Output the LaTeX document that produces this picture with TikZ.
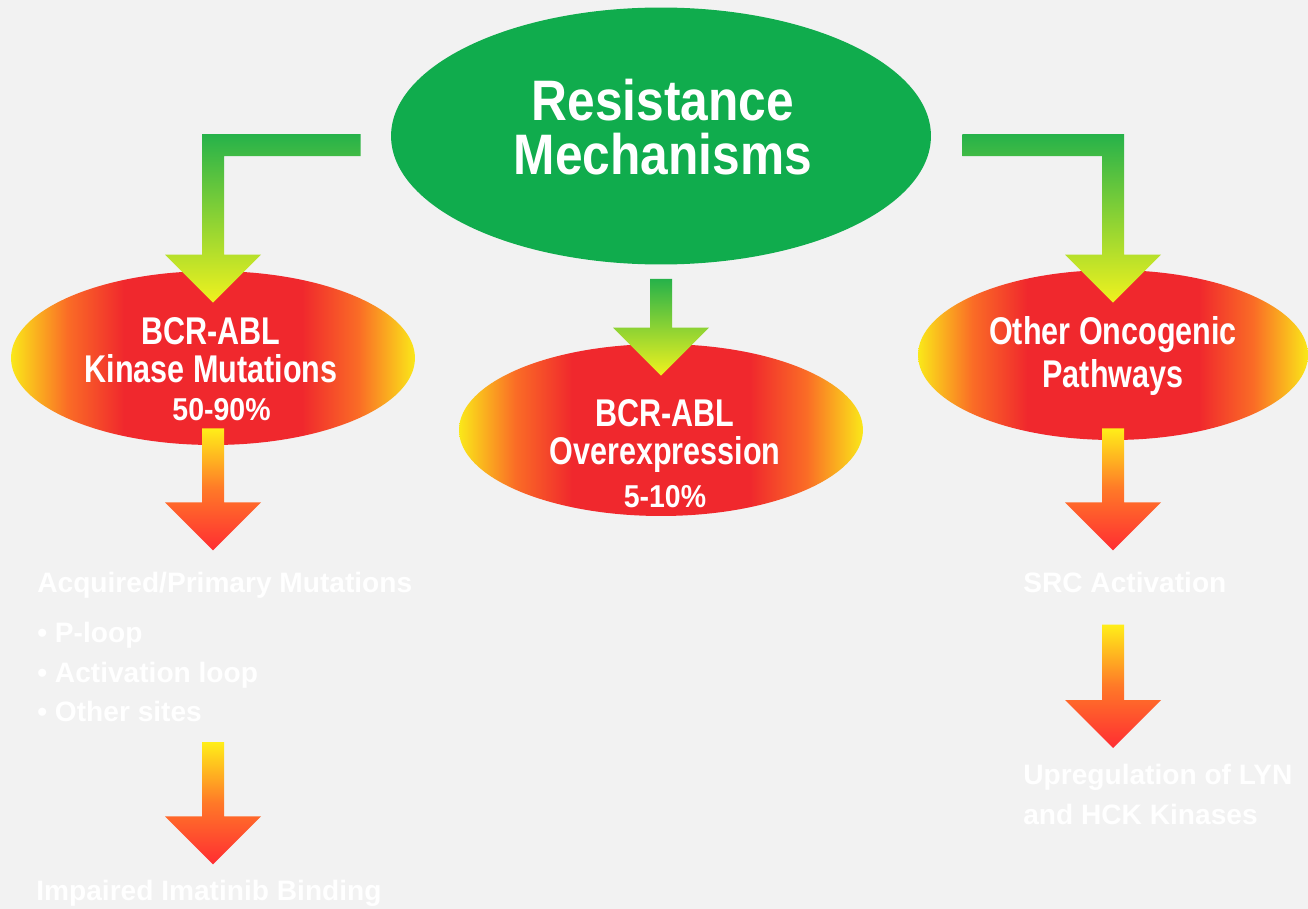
\documentclass[tikz,border=0pt]{standalone}
\usepackage{fontspec}
\setmainfont{Liberation Sans}
\newfontfamily\headfont{Liberation Sans}[FakeStretch=0.87]
\newfontfamily\ovalfont{Liberation Sans}[FakeStretch=0.79]
\newfontfamily\pctfont{Liberation Sans}[FakeStretch=0.9]
\usepackage{tikz}
\usetikzlibrary{shapes.geometric, calc, positioning}
\definecolor{paper}{RGB}{242,242,242}
\definecolor{rmgreen}{RGB}{16,172,77}
\definecolor{arrgreen}{RGB}{38,178,74}
\definecolor{arryellow}{RGB}{240,242,30}
\definecolor{glowred}{RGB}{240,40,45}
\definecolor{gloworange}{RGB}{250,108,38}
\definecolor{glowyellow}{RGB}{250,232,25}
\definecolor{tipyellow}{RGB}{255,238,25}
\definecolor{tiporange}{RGB}{255,120,40}
\definecolor{tipred}{RGB}{255,45,50}

% yellow rims, red core
\pgfdeclarehorizontalshading{ovalglow}{100bp}{color(0bp)=(glowyellow); color(25bp)=(glowyellow);
  color(32bp)=(gloworange); color(39bp)=(glowred); color(61bp)=(glowred);
  color(68bp)=(gloworange); color(75bp)=(glowyellow); color(100bp)=(glowyellow)}

% fat arrow straight down from #2 to tip #3
\newcommand{\downblock}[3]{%
  \shade[#1] ($(#2)+(-11,0)$) -- ($(#2)+(11,0)$) -- ($(#3)+(11,-48)$) -- ($(#3)+(48,-48)$)
    -- (#3) -- ($(#3)+(-48,-48)$) -- ($(#3)+(-11,-48)$) -- cycle;}
% fat arrow leaving #2 sideways, turning down to tip #3 (#4: 1 = goes left, -1 = goes right)
\newcommand{\elbowblock}[4]{%
  \shade[#1] ($(#2)+(0,-11)$) -- ($(#3|-#2)+(-11*#4,-11)$) -- ($(#3)+(-11*#4,-48)$)
    -- ($(#3)+(-48*#4,-48)$) -- (#3) -- ($(#3)+(48*#4,-48)$) -- ($(#3)+(11*#4,-48)$)
    -- ($(#3|-#2)+(11*#4,11)$) -- ($(#2)+(0,11)$) -- cycle;}

\begin{document}
\begin{tikzpicture}[x=0.02cm, y=-0.02cm,
    oval/.style={ellipse, inner sep=0pt},
    warmoval/.style={oval, shading=ovalglow},
    ovaltext/.style={text=white, align=center, inner sep=0pt, font=\ovalfont\fontsize{22}{21.5}\selectfont\bfseries},
    faint/.style={text=white, align=left, inner sep=0pt, font=\fontsize{16}{22.4}\selectfont\bfseries},
    greenflow/.style={top color=arrgreen, bottom color=arryellow},
    warmflow/.style={top color=tipyellow, bottom color=tipred, middle color=tiporange}]

    % Canvas
    \useasboundingbox (0,0) rectangle (1308,909);
    \fill[paper] (0,0) rectangle (1308,909);

    % Central oval
    \node[oval, fill=rmgreen, minimum width=10.8cm, minimum height=5.14cm] (res) at (661,136) {};
    \node[text=white, align=center, inner sep=0pt, font=\headfont\fontsize{32.5}{31}\selectfont\bfseries] (res-txt) at (663,127) {Resistance\\Mechanisms};

    % The three mechanisms
    \node[warmoval, minimum width=8.08cm, minimum height=3.48cm] (kin) at (213,358) {};
    \node[ovaltext] (kin-txt) at (211,369) {BCR-ABL\\Kinase Mutations\\{\pctfont\fontsize{18}{18}\selectfont\bfseries\hspace{12pt}50-90\%}};
    \node[warmoval, minimum width=8.08cm, minimum height=3.44cm] (ovr) at (661,430) {};
    \node[ovaltext] (ovr-txt) at (665,454) {BCR-ABL\\Overexpression\\[3pt]{\pctfont\fontsize{18}{18}\selectfont\bfseries 5-10\%}};
    \node[warmoval, minimum width=7.8cm, minimum height=3.4cm] (oth) at (1113,355) {};
    \node[ovaltext] (oth-txt) at (1113,356) {Other Oncogenic\\[2.5pt]Pathways};

    % Downstream captions (white on grey)
    \node[faint, anchor=base west] (acq) at (37,592) {Acquired/Primary Mutations};
    \node[faint, anchor=north west] (sites) at (37,622) {\textbullet\ P-loop\\\textbullet\ Activation loop\\\textbullet\ Other sites};
    \node[faint, anchor=base west] (imp) at (36,900) {Impaired Imatinib Binding};
    \node[faint, anchor=base west] (src) at (1023,592) {SRC Activation};
    \node[faint, anchor=north west] (upr) at (1023,764) {Upregulation of LYN\\and HCK Kinases};

    % Arrow ends
    \coordinate (lt-src) at ($(res.west)+(-30,9)$);
    \coordinate (lt-tip) at ($(kin.north)+(0,32)$);
    \coordinate (rt-src) at ($(res.east)+(31,9)$);
    \coordinate (rt-tip) at ($(oth.north)+(0,33)$);
    \coordinate (md-src) at ($(res.south)+(0,14)$);
    \coordinate (md-tip) at ($(ovr.north)+(0,32)$);

    % Green arrows out of the central oval
    \elbowblock{greenflow}{lt-src}{lt-tip}{1}
    \elbowblock{greenflow}{rt-src}{rt-tip}{-1}
    \downblock{greenflow}{md-src}{md-tip}

    % Warm arrows down the sides
    \downblock{warmflow}{$(kin.south)+(0,-17)$}{$(kin.south |- acq.north)+(0,-21)$}
    \downblock{warmflow}{$(kin.south |- sites.south)+(0,20)$}{$(kin.south |- imp.north)+(0,-15)$}
    \downblock{warmflow}{$(oth.south)+(0,-12)$}{$(oth.south |- src.north)+(0,-21)$}
    \downblock{warmflow}{$(oth.south |- src.south)+(0,32)$}{$(oth.south |- upr.north)+(0,-16)$}
\end{tikzpicture}
\end{document}
